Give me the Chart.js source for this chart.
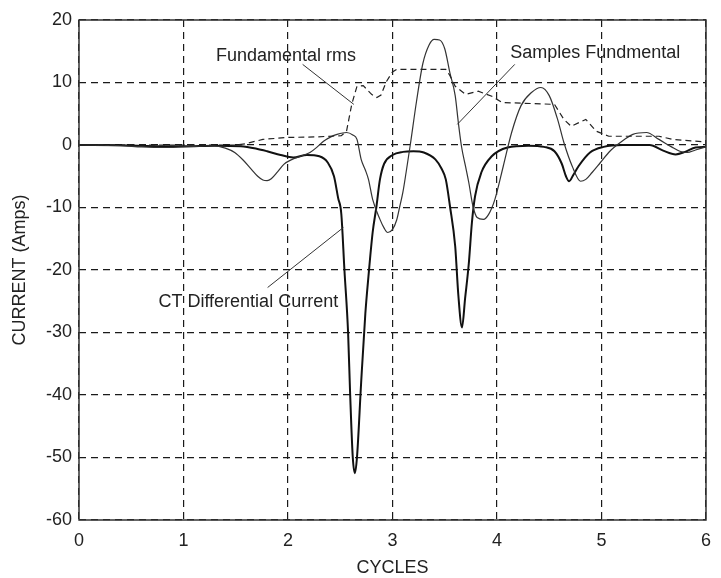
<!DOCTYPE html>
<html>
<head>
<meta charset="utf-8">
<title>CT current</title>
<script src="https://cdn.jsdelivr.net/npm/chart.js@4.4.1/dist/chart.umd.min.js"></script>
<style>
  html, body { margin: 0; padding: 0; background: #fff; }
  canvas { display: block; }
</style>
</head>
<body>
<canvas id="currentChart" width="721" height="578"></canvas>
<script>
// CT differential current (thick solid)
const diffCycles = [0, 0.4, 0.8, 1.0, 1.3, 1.55, 1.7, 1.8, 1.93, 2.05, 2.18, 2.3, 2.38, 2.44, 2.48, 2.51, 2.54, 2.575, 2.595, 2.62, 2.64, 2.66, 2.7, 2.74, 2.77, 2.81, 2.845, 2.88, 2.92, 3.0, 3.1, 3.2, 3.3, 3.41, 3.47, 3.51, 3.55, 3.6, 3.63, 3.665, 3.695, 3.73, 3.76, 3.79, 3.85, 3.95, 4.1, 4.3, 4.45, 4.55, 4.62, 4.66, 4.69, 4.73, 4.78, 4.89, 5.02, 5.2, 5.46, 5.59, 5.71, 5.8, 5.9, 6.0]
const diffAmps = [0, -0.05, -0.2, -0.2, -0.1, -0.2, -0.6, -1.0, -1.6, -2.0, -1.6, -1.8, -2.8, -5, -8.5, -11, -20, -30, -40, -50, -52.5, -50, -38, -27, -21, -14, -10, -5.5, -3.0, -1.6, -1.1, -1.0, -1.2, -2.3, -3.8, -5.5, -9.8, -16.2, -24, -29.2, -24.5, -19, -12.4, -8.2, -4.4, -1.8, -0.4, -0.1, -0.3, -1.0, -3.0, -5.0, -5.8, -4.8, -3.4, -1.2, -0.3, 0, 0, -0.9, -1.5, -1.1, -0.4, -0.3]

// samples fundamental (thin solid)
const fundCycles = [0, 0.4, 0.6, 0.8, 1.0, 1.15, 1.27, 1.4, 1.49, 1.57, 1.65, 1.71, 1.76, 1.8, 1.84, 1.9, 1.96, 2.04, 2.12, 2.21, 2.28, 2.34, 2.41, 2.47, 2.56, 2.62, 2.66, 2.7, 2.74, 2.77, 2.81, 2.88, 2.92, 2.955, 3.0, 3.04, 3.07, 3.1, 3.13, 3.17, 3.23, 3.29, 3.35, 3.4, 3.45, 3.5, 3.55, 3.6, 3.63, 3.66, 3.7, 3.73, 3.77, 3.81, 3.87, 3.92, 3.98, 4.06, 4.14, 4.23, 4.33, 4.42, 4.5, 4.58, 4.64, 4.72, 4.8, 4.85, 4.91, 4.99, 5.08, 5.18, 5.3, 5.43, 5.55, 5.67, 5.75, 5.82, 5.9, 6.0]
const fundAmps = [0, -0.1, -0.3, -0.4, -0.3, -0.2, -0.1, -0.5, -1.2, -2.4, -3.9, -5.0, -5.6, -5.7, -5.4, -4.3, -3.1, -2.3, -1.8, -1.2, -0.3, 0.6, 1.3, 1.7, 2.0, 1.6, 0.9, -2.3, -4, -5.5, -8.7, -11.9, -13.3, -14, -13.5, -12, -9.8, -7.5, -4.4, 0, 7, 13, 16, 16.9, 16.8, 15.4, 11.5, 7.9, 3.6, -0.2, -3.5, -6, -9.8, -11.6, -11.9, -11.1, -8.7, -3.4, 2, 6.3, 8.4, 9.2, 7.9, 4.1, 0.4, -3.4, -5.8, -5.5, -4.4, -2.8, -1.0, 0.4, 1.7, 2.0, 0.9, -0.3, -1.0, -1.2, -0.8, -0.3]

// fundamental rms (dashed)
const rmsCycles = [0, 1.5, 1.59, 1.76, 1.99, 2.28, 2.51, 2.56, 2.61, 2.66, 2.72, 2.8, 2.85, 2.89, 2.94, 3.0, 3.04, 3.51, 3.55, 3.6, 3.7, 3.82, 3.95, 4.05, 4.55, 4.64, 4.71, 4.85, 4.95, 5.07, 5.55, 5.68, 6.0]
const rmsAmps = [0, 0, 0.2, 0.9, 1.2, 1.3, 1.5, 2.2, 6.5, 9.4, 9.5, 8.1, 7.6, 8.0, 10.1, 11.7, 12.1, 12.1, 11.1, 9.4, 8.1, 8.6, 7.8, 6.8, 6.5, 4.1, 3.0, 4.1, 2.2, 1.4, 1.4, 0.9, 0.5]

// text callouts: label position and pointer line, in cycles / amps
const labelTexts = ['Fundamental rms', 'Samples Fundmental', 'CT Differential Current']
const labelAt = [[1.98, 14.2], [4.94, 14.7], [1.62, -25.1]]
const pointerFrom = [[2.14, 12.9], [4.17, 12.9], [2.53, -13.2]]
const pointerTo = [[2.63, 6.5], [3.62, 3.3], [1.805, -22.8]]

const xMin = 0, xMax = 6, xStep = 1
const yMin = -60, yMax = 20, yStep = 10

const FONT = "'Liberation Sans', Arial, sans-serif"
Chart.defaults.font.family = FONT
Chart.defaults.font.size = 18
Chart.defaults.color = '#222'

function toPoints(xs, ys) {
    return xs.map((x, i) => ({ x: x, y: ys[i] }))
}

const calloutPlugin = {
    id: 'callouts',
    afterDatasetsDraw(chart) {
        const ctx = chart.ctx
        const xs = chart.scales.x
        const ys = chart.scales.y
        const area = chart.chartArea

        ctx.save()
        // plot frame
        ctx.strokeStyle = '#333'
        ctx.lineWidth = 1.5
        ctx.strokeRect(area.left, area.top, area.right - area.left, area.bottom - area.top)

        // pointer lines
        ctx.lineWidth = 1
        ctx.strokeStyle = '#333'
        for (let i = 0; i < labelTexts.length; i++) {
            ctx.beginPath()
            ctx.moveTo(xs.getPixelForValue(pointerFrom[i][0]), ys.getPixelForValue(pointerFrom[i][1]))
            ctx.lineTo(xs.getPixelForValue(pointerTo[i][0]), ys.getPixelForValue(pointerTo[i][1]))
            ctx.stroke()
        }

        // labels
        ctx.fillStyle = '#222'
        ctx.font = '18px ' + FONT
        ctx.textAlign = 'center'
        ctx.textBaseline = 'middle'
        for (let i = 0; i < labelTexts.length; i++) {
            ctx.fillText(labelTexts[i], xs.getPixelForValue(labelAt[i][0]), ys.getPixelForValue(labelAt[i][1]))
        }
        ctx.restore()
    }
}

const CHART = document.getElementById('currentChart')

new Chart(CHART, {
    type: 'line',
    data: {
        datasets: [{
            label: 'Fundamental rms',
            data: toPoints(rmsCycles, rmsAmps),
            borderColor: '#222',
            borderWidth: 1.2,
            borderDash: [6, 4],
            pointRadius: 0,
            tension: 0
        }, {
            label: 'Samples Fundmental',
            data: toPoints(fundCycles, fundAmps),
            borderColor: '#333',
            borderWidth: 1.2,
            pointRadius: 0,
            cubicInterpolationMode: 'monotone'
        }, {
            label: 'CT Differential Current',
            data: toPoints(diffCycles, diffAmps),
            borderColor: '#111',
            borderWidth: 2,
            pointRadius: 0,
            cubicInterpolationMode: 'monotone'
        }]
    },
    options: {
        responsive: false,
        animation: false,
        layout: {
            padding: { top: 20, right: 7, left: 0, bottom: 0 }
        },
        plugins: {
            legend: { display: false },
            tooltip: { enabled: false }
        },
        scales: {
            x: {
                type: 'linear',
                min: xMin,
                max: xMax,
                afterFit: (scale) => { scale.height = 58 },
                ticks: { stepSize: xStep, padding: 10, maxRotation: 0 },
                grid: { color: '#1a1a1a', lineWidth: 1.2, drawTicks: false },
                border: { display: false, dash: [7, 5] },
                title: {
                    display: true,
                    text: 'CYCLES',
                    font: { size: 18, lineHeight: 1.1 },
                    padding: { top: 0, bottom: 0 }
                }
            },
            y: {
                type: 'linear',
                min: yMin,
                max: yMax,
                afterFit: (scale) => { scale.width = 79 },
                ticks: { stepSize: yStep, padding: 7 },
                grid: { color: '#1a1a1a', lineWidth: 1.2, drawTicks: false },
                border: { display: false, dash: [7, 5] },
                title: {
                    display: true,
                    text: 'CURRENT (Amps)',
                    font: { size: 18, lineHeight: 1.1 },
                    padding: { top: 10, bottom: 0 }
                }
            }
        }
    },
    plugins: [calloutPlugin]
})
</script>
</body>
</html>
